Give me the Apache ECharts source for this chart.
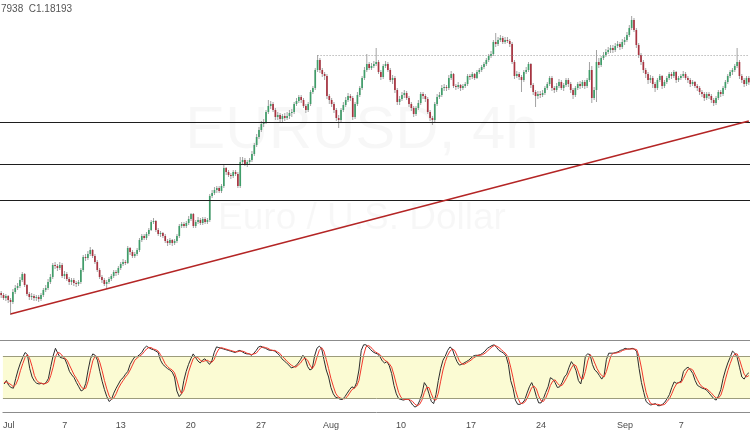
<!DOCTYPE html>
<html><head><meta charset="utf-8">
<script src="https://cdn.jsdelivr.net/npm/echarts/dist/echarts.min.js"></script>
<style>html,body{margin:0;padding:0;background:#fff}#c{width:750px;height:430px}</style>
</head><body><div id="c"></div>
<script>
// trading days shown (4h candles; Jun 30 contributes only its last two bars)
const tradingDays = ['06-30','07-01','07-02','07-03','07-06','07-07','07-08','07-09','07-10','07-13','07-14','07-15','07-16','07-17','07-20','07-21','07-22','07-23','07-24','07-27','07-28','07-29','07-30','07-31','08-03','08-04','08-05','08-06','08-07','08-10','08-11','08-12','08-13','08-14','08-17','08-18','08-19','08-20','08-21','08-24','08-25','08-26','08-27','08-28','08-31','09-01','09-02','09-03','09-04','09-07','09-08','09-09','09-10','09-11'];
const barHours = ['00','04','08','12','16','20'];
const tickDates = ['07-01 00','07-07 00','07-13 00','07-20 00','07-27 00','08-03 00','08-10 00','08-17 00','08-24 00','09-01 00','09-07 00'];
const tickTexts = ['Jul','7','13','20','27','Aug','10','17','24','Sep','7'];

// EURUSD prices in pips (price x 10000)
const firstOpen = 11187;
const closes = [
11181,11172,11178,11166,11160,11190,11202,11208,11226,11244,11211,11184,11175,11178,11172,11175,11169,11181,11196,11202,
11220,11235,11271,11268,11262,11271,11238,11244,11229,11220,11226,11217,11214,11220,11256,11295,11292,11304,11316,11298,
11280,11256,11235,11226,11214,11220,11229,11238,11250,11247,11262,11274,11280,11277,11322,11310,11298,11304,11316,11346,
11358,11352,11364,11376,11400,11403,11376,11364,11367,11358,11343,11337,11346,11337,11343,11358,11388,11394,11388,11397,
11409,11424,11388,11400,11406,11397,11409,11400,11406,11478,11487,11496,11502,11493,11508,11562,11550,11541,11538,11550,
11544,11508,11580,11586,11574,11580,11586,11604,11631,11655,11676,11694,11700,11730,11748,11754,11736,11715,11721,11709,
11718,11712,11718,11727,11730,11754,11763,11775,11766,11748,11736,11754,11790,11802,11856,11886,11856,11844,11838,11778,
11766,11754,11736,11712,11706,11736,11751,11766,11778,11772,11715,11754,11781,11802,11832,11856,11874,11862,11868,11874,
11880,11850,11835,11868,11874,11856,11826,11832,11796,11760,11769,11781,11787,11772,11754,11742,11724,11742,11757,11784,
11778,11769,11730,11712,11706,11754,11775,11781,11802,11805,11802,11832,11844,11808,11805,11811,11802,11808,11814,11838,
11835,11844,11832,11850,11856,11865,11874,11886,11898,11904,11940,11934,11946,11952,11940,11946,11943,11934,11880,11838,
11844,11835,11826,11850,11856,11874,11811,11790,11778,11784,11781,11787,11802,11814,11832,11802,11796,11808,11820,11802,
11811,11826,11814,11796,11781,11802,11814,11808,11820,11808,11826,11856,11772,11796,11880,11871,11892,11901,11910,11916,
11922,11916,11928,11934,11925,11940,11946,11961,11982,12006,11976,11931,11901,11880,11856,11844,11826,11832,11814,11802,
11826,11838,11808,11820,11832,11844,11838,11850,11826,11832,11838,11844,11832,11826,11814,11820,11808,11802,11790,11784,
11772,11784,11778,11766,11757,11772,11790,11784,11802,11820,11838,11850,11856,11868,11880,11838,11826,11814,11832,11819];
const highs = [
11193,11187,11184,11181,11172,11199,11211,11217,11235,11250,11247,11214,11190,11187,11184,11181,11181,11187,11202,11211,
11229,11244,11277,11280,11274,11280,11277,11253,11250,11235,11232,11232,11223,11226,11262,11301,11304,11313,11325,11319,
11304,11286,11262,11241,11232,11226,11235,11244,11256,11256,11268,11280,11289,11286,11328,11325,11316,11310,11322,11352,
11364,11364,11370,11382,11406,11412,11406,11382,11373,11370,11364,11349,11352,11349,11349,11364,11394,11400,11400,11403,
11418,11427,11427,11406,11415,11412,11415,11415,11412,11484,11496,11505,11508,11508,11514,11571,11565,11556,11547,11556,
11556,11550,11595,11595,11592,11586,11592,11613,11637,11664,11685,11703,11709,11736,11766,11763,11760,11742,11730,11727,
11724,11727,11730,11736,11739,11760,11772,11781,11781,11772,11754,11760,11796,11808,11862,11901,11892,11862,11850,11844,
11784,11772,11760,11742,11721,11742,11760,11775,11787,11784,11778,11760,11790,11808,11838,11865,11904,11880,11877,11883,
11922,11886,11856,11874,11883,11880,11862,11841,11838,11802,11778,11790,11796,11793,11778,11760,11748,11748,11766,11790,
11790,11784,11775,11736,11718,11760,11784,11790,11811,11814,11811,11841,11853,11847,11814,11820,11814,11814,11820,11844,
11844,11850,11847,11856,11862,11871,11880,11892,11904,11913,11946,11967,11955,11961,11958,11955,11955,11949,11940,11886,
11853,11850,11841,11856,11865,11880,11877,11817,11796,11793,11793,11796,11808,11820,11838,11838,11808,11817,11829,11826,
11817,11832,11832,11820,11802,11808,11820,11823,11826,11826,11832,11880,11868,11805,11916,11892,11898,11910,11919,11925,
11931,11931,11937,11943,11940,11949,11955,11970,11991,12018,12012,11982,11937,11907,11886,11862,11850,11841,11838,11820,
11832,11844,11841,11826,11838,11850,11850,11856,11853,11838,11844,11853,11850,11838,11832,11826,11823,11814,11808,11796,
11790,11790,11790,11784,11772,11778,11796,11796,11808,11826,11844,11856,11862,11874,11922,11886,11844,11832,11838,11838];
const lows = [
11172,11166,11163,11157,11121,11154,11184,11196,11202,11220,11205,11178,11166,11166,11163,11163,11160,11163,11175,11190,
11196,11214,11229,11259,11253,11256,11232,11229,11223,11211,11211,11208,11205,11208,11214,11250,11283,11286,11298,11292,
11274,11250,11229,11217,11208,11199,11214,11223,11232,11238,11241,11256,11268,11271,11274,11301,11292,11292,11298,11310,
11340,11346,11346,11358,11373,11394,11370,11358,11355,11352,11337,11328,11331,11328,11331,11337,11352,11382,11382,11382,
11391,11403,11382,11382,11394,11391,11391,11394,11394,11400,11472,11481,11487,11487,11487,11502,11541,11535,11529,11532,
11538,11502,11502,11574,11568,11565,11571,11580,11598,11625,11649,11670,11685,11694,11724,11739,11730,11706,11706,11700,
11697,11703,11706,11709,11715,11724,11748,11757,11757,11742,11727,11730,11748,11784,11796,11850,11847,11835,11826,11769,
11754,11745,11727,11703,11682,11700,11730,11745,11760,11763,11706,11709,11748,11775,11796,11826,11850,11856,11856,11862,
11868,11844,11826,11829,11862,11850,11820,11814,11787,11751,11751,11763,11772,11766,11745,11733,11715,11718,11736,11751,
11769,11760,11724,11703,11691,11700,11748,11769,11775,11793,11793,11796,11826,11802,11796,11799,11793,11796,11802,11808,
11826,11829,11826,11829,11844,11850,11859,11868,11880,11892,11898,11925,11928,11940,11934,11934,11937,11925,11874,11829,
11832,11826,11790,11820,11844,11850,11802,11781,11745,11769,11772,11775,11781,11796,11808,11793,11787,11790,11802,11796,
11793,11805,11805,11787,11769,11775,11796,11799,11802,11799,11802,11820,11757,11766,11760,11862,11865,11886,11895,11904,
11907,11907,11910,11922,11916,11919,11931,11940,11955,11976,11970,11922,11892,11871,11847,11832,11814,11817,11802,11790,
11796,11820,11799,11802,11814,11826,11829,11832,11817,11820,11826,11832,11826,11817,11805,11808,11802,11793,11781,11775,
11763,11766,11769,11757,11748,11751,11766,11775,11778,11796,11814,11832,11841,11850,11862,11829,11817,11805,11808,11811];

// Stochastic %K and %D
const stochK = [
40,45,38,35,34,48,60,70,78,85,82,62,50,44,41,40,41,40,42,48,
65,80,91,84,78,77,76,68,58,53,49,42,36,30,32,41,60,76,83,81,
74,58,44,32,22,15,18,27,34,40,46,49,54,58,68,74,79,79,82,85,
91,94,92,90,89,87,85,74,68,65,62,60,57,50,30,22,26,45,58,68,
76,83,78,73,70,74,76,72,68,73,85,93,92,91,90,89,88,87,86,85,
87,88,86,84,83,83,81,84,88,93,94,92,91,89,88,88,87,84,81,76,
73,70,67,63,64,66,70,75,81,76,65,60,62,80,91,94,91,75,60,50,
35,26,21,20,18,18,22,27,32,36,34,42,60,88,96,96,93,89,86,84,
83,79,73,70,72,66,55,38,26,19,18,17,18,19,15,10,7,9,16,26,
42,37,26,15,12,25,45,62,74,80,88,93,90,80,72,67,68,70,72,74,
77,80,81,81,82,84,87,91,93,95,96,92,88,86,84,80,68,45,34,17,
11,11,13,17,27,36,42,34,22,13,13,19,28,36,49,47,42,35,36,42,
50,54,64,72,67,59,45,40,55,80,83,82,68,60,57,52,47,52,75,84,
84,84,85,86,88,89,91,90,90,91,90,86,62,42,28,15,12,10,11,12,
9,9,11,14,19,25,35,43,41,42,44,58,62,64,60,55,45,38,36,34,
33,31,27,23,19,17,23,32,48,60,70,78,87,84,78,64,50,47,53,56];
const stochD = [
42,43,41,39,36,39,47,59,69,78,82,76,65,52,45,42,41,40,41,43,
52,64,79,85,84,80,77,74,67,60,53,48,42,36,33,34,44,59,73,80,
79,71,59,45,33,23,18,20,26,34,40,45,50,54,60,67,74,77,80,82,
86,90,92,92,90,89,87,82,76,69,65,62,60,56,46,34,26,31,43,57,
67,76,79,78,74,72,73,74,72,71,75,84,90,92,91,90,89,88,87,86,
86,87,87,86,84,83,82,83,84,88,92,93,92,91,89,88,88,86,84,80,
77,73,70,67,65,64,67,70,75,77,74,67,62,67,78,88,92,87,75,62,
48,37,27,22,20,19,19,22,27,32,34,37,45,63,81,93,95,93,89,86,
84,82,78,74,72,69,64,53,40,28,21,18,18,18,17,15,11,9,11,17,
28,35,35,26,18,17,27,44,60,72,81,87,90,88,81,73,69,68,70,72,
74,77,79,81,81,82,84,87,90,93,95,94,92,89,86,83,77,64,49,32,
21,13,12,14,19,27,35,37,33,23,16,15,20,28,38,44,46,41,38,38,
43,49,56,63,68,66,57,48,47,58,73,82,78,70,62,56,52,50,58,70,
81,84,84,85,86,88,89,90,90,90,90,89,79,63,44,28,18,12,11,11,
11,10,10,11,15,19,26,34,40,42,42,48,55,61,62,60,53,46,40,36,
34,33,30,27,23,20,20,24,34,47,59,69,78,83,83,75,64,54,50,52];

// drawn levels (pips)
const supportLevels = [11700, 11574, 11466];
const dottedLevel = 11901;
const dottedFromBar = 135;
const trendFrom = [4, 11124];
const trendTo = [319, 11703];
const stochBands = [20, 80];

const categories = [];
tradingDays.forEach(d => barHours.forEach(h => categories.push(d + ' ' + h)));
categories.splice(0, 4);
const P = v => v / 10000;
const candles = closes.map((c, i) => [i, P(i ? closes[i - 1] : firstOpen), P(c), P(lows[i]), P(highs[i])]);

const FONT = '"Liberation Sans", Arial, sans-serif';
const chart = echarts.init(document.getElementById('c'), null, {renderer: 'canvas'});
chart.setOption({
  animation: false,
  backgroundColor: '#ffffff',
  grid: [
    {left: 0, right: 0, top: 0, height: 340},
    {left: 0, right: 0, top: 340, height: 73}
  ],
  xAxis: [
    {type: 'category', gridIndex: 0, data: categories, axisLabel: {show: false}, axisTick: {show: false},
     axisLine: {show: true, lineStyle: {color: '#8c8c8c', width: 1}}, splitLine: {show: false}},
    {type: 'category', gridIndex: 1, data: categories, axisTick: {show: false},
     axisLine: {show: true, lineStyle: {color: '#8c8c8c', width: 1}}, splitLine: {show: false},
     axisLabel: {interval: (idx, val) => tickDates.indexOf(val) >= 0,
       formatter: (val) => { const k = tickDates.indexOf(val); return k >= 0 ? tickTexts[k] : ''; },
       color: '#4a4a4a', fontSize: 9, margin: 8, fontFamily: FONT}}
  ],
  yAxis: [
    {type: 'value', gridIndex: 0, min: 1.1046, max: 1.2066, show: false},
    {type: 'value', gridIndex: 1, min: -1.43, max: 102.86, show: false}
  ],
  graphic: [
    {type: 'text', x: 362, y: 131, z: 0, silent: true,
     style: {text: 'EURUSD, 4h', font: '60px ' + FONT, fill: 'rgba(0,0,0,0.03)', align: 'center', verticalAlign: 'middle'}},
    {type: 'text', x: 362, y: 219, z: 0, silent: true,
     style: {text: 'Euro / U.S. Dollar', font: '37px ' + FONT, fill: 'rgba(0,0,0,0.03)', align: 'center', verticalAlign: 'middle'}},
    {type: 'text', left: 1, top: 4, z: 10,
     style: {text: '7938  C1.18193', font: '10px ' + FONT, fill: '#555555'}}
  ],
  series: [
    {
      type: 'line', xAxisIndex: 0, yAxisIndex: 0, data: closes.map(P), showSymbol: false, silent: true,
      lineStyle: {opacity: 0}, z: 1,
      markLine: {
        silent: true, symbol: ['none', 'none'], label: {show: false}, animation: false, precision: 5,
        data: [
          ...supportLevels.map(v => ({yAxis: P(v), lineStyle: {color: '#1e1e1e', width: 1, type: 'solid'}})),
          [{coord: [categories[dottedFromBar], P(dottedLevel)], lineStyle: {color: '#9a9a9a', width: 1, type: [1, 2]}},
           {coord: [categories[categories.length - 1], P(dottedLevel)]}],
          [{coord: [categories[trendFrom[0]], P(trendFrom[1])], lineStyle: {color: '#b42525', width: 1.5, type: 'solid'}},
           {coord: [categories[trendTo[0]], P(trendTo[1])]}]
        ]
      }
    },
    {
      type: 'custom', xAxisIndex: 0, yAxisIndex: 0, data: candles, z: 3,
      encode: {x: 0, y: [1, 2, 3, 4]},
      renderItem: (params, api) => {
        const i = api.value(0);
        const o = api.coord([i, api.value(1)]);
        const c = api.coord([i, api.value(2)]);
        const l = api.coord([i, api.value(3)]);
        const h = api.coord([i, api.value(4)]);
        const w = api.size([1, 0])[0] * 0.72;
        const up = api.value(2) >= api.value(1);
        const top = Math.min(o[1], c[1]);
        const ht = Math.max(1, Math.abs(o[1] - c[1]));
        return {type: 'group', children: [
          {type: 'line', shape: {x1: h[0], y1: h[1], x2: l[0], y2: l[1]}, style: {stroke: '#a3a3a3', lineWidth: 1}},
          {type: 'rect', shape: {x: o[0] - w / 2, y: top, width: w, height: ht}, style: {fill: up ? '#3f9d69' : '#a8323f'}}
        ]};
      }
    },
    {
      type: 'line', xAxisIndex: 1, yAxisIndex: 1, data: stochK, showSymbol: false, silent: true, z: 3,
      lineStyle: {color: '#2d2d2d', width: 1},
      markArea: {silent: true, itemStyle: {color: '#fbfbd3'}, data: [[{yAxis: stochBands[0]}, {yAxis: stochBands[1]}]]},
      markLine: {silent: true, symbol: ['none', 'none'], label: {show: false},
        lineStyle: {color: '#9c9c7c', width: 1, type: 'solid'},
        data: stochBands.map(v => ({yAxis: v}))}
    },
    {
      type: 'line', xAxisIndex: 1, yAxisIndex: 1, data: stochD, showSymbol: false, silent: true, z: 4,
      lineStyle: {color: '#f2382c', width: 1}
    }
  ]
});
</script></body></html>
